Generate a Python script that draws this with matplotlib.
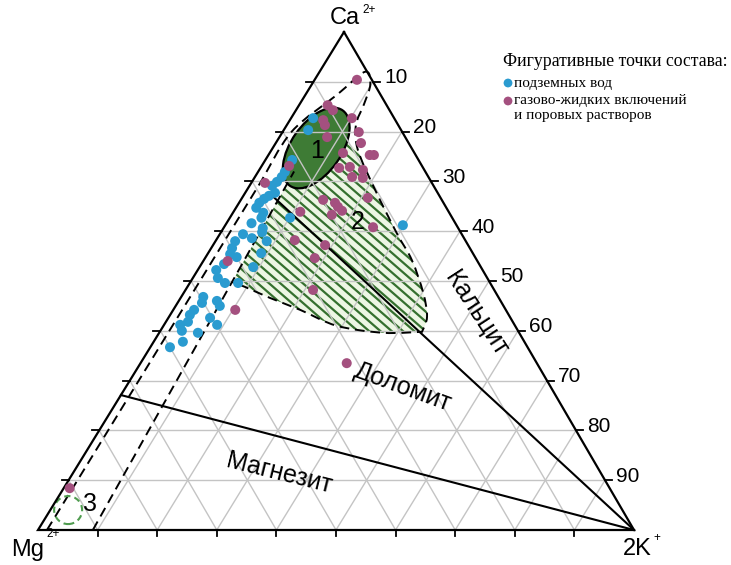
import numpy as np
import matplotlib
matplotlib.use("Agg")
import matplotlib.pyplot as plt
from matplotlib.path import Path
from matplotlib.patches import PathPatch, Ellipse, Circle

# ---------------- data (percent Ca2+, percent 2K+; Mg2+ = 100 - Ca - K) -------------
blue_ca = [82.7, 80.3, 74.3, 71.9, 70.9, 69.9, 69.1, 67.7, 67.1, 66.5, 65.7, 64.7,
           63.7, 62.7, 61.6, 62.7, 60.6, 59.4, 58.6, 59.8, 58.0, 58.0, 56.6, 55.4,
           54.8, 55.6, 52.8, 53.4, 52.2, 50.6, 49.6, 49.6, 46.8, 45.6, 46.0, 45.0,
           44.2, 43.2, 41.8, 42.6, 41.2, 41.2, 40.0, 39.6, 37.8, 36.7, 61.2]
blue_k = [3.7, 4.1, 4.5, 4.5, 4.5, 4.2, 3.8, 5.0, 4.3, 3.8, 3.4, 3.4,
          5.1, 5.3, 4.2, 10.1, 6.6, 3.9, 5.8, 6.9, 8.6, 3.3, 3.5, 3.8,
          5.2, 8.9, 9.0, 3.8, 3.1, 4.2, 5.9, 8.1, 3.7, 4.1, 6.4, 7.4,
          3.5, 3.3, 3.7, 7.0, 8.9, 2.7, 3.6, 6.5, 4.9, 3.3, 29.8]

pink_ca = [90.4, 85.3, 84.3, 82.3, 81.3, 78.9, 82.7, 79.9, 77.7, 75.3, 75.3, 75.7,
           72.7, 72.9, 70.9, 72.3, 70.7, 66.7, 66.3, 65.7, 64.9, 64.1, 63.3, 63.9,
           73.1, 69.7, 60.8, 58.2, 57.2, 54.6, 48.2, 44.2, 54.0, 33.5, 8.4]
pink_k = [7.1, 4.8, 6.2, 5.6, 6.4, 8.0, 10.2, 12.8, 14.3, 17.0, 17.7, 12.3,
          13.2, 14.9, 16.3, 17.4, 18.2, 21.1, 13.8, 16.1, 17.0, 18.1, 16.8, 11.2,
          4.6, 2.3, 25.0, 13.2, 18.8, 18.4, 21.4, 10.4, 4.1, 34.6, 1.0]

tick_levels = [10, 20, 30, 40, 50, 60, 70, 80, 90]

# field outlines (Ca %, K %)
env_top_ca = [70.0, 80.0, 87.4, 92.0, 89.5, 85.5, 81.3, 76.3, 68.3, 59.6, 54.2, 47.6, 42.8, 39.8]
env_top_k = [1.5, 1.5, 5.3, 7.6, 9.8, 10.8, 11.6, 14.5, 21.5, 29.6, 34.9, 40.2, 43.3, 44.0]
env_bot_ca = [39.8, 39.6, 41.0, 44.2, 46.6, 48.8, 49.8]
env_bot_k = [44.0, 37.6, 29.1, 21.3, 15.0, 9.7, 7.0]
line_b_ca = [0.0, 72.0]
line_b_k = [9.2, 6.0]
calcite_ca = [67.0, 0.0]
calcite_k = [5.0, 100.0]
magnesite_ca = [27.1, 0.0]
magnesite_k = [0.0, 100.0]
field1_center = (76.7, 7.3)
field3_center = (4.0, 3.0)

# ---------------- geometry ----------------
V_CA = np.array([344.0, 533.0])
V_MG = np.array([38.0, 35.0])
V_K = np.array([634.0, 35.0])


def tern(ca, k):
    ca = np.asarray(ca, float) / 100.0
    k = np.asarray(k, float) / 100.0
    mg = 1.0 - ca - k
    x = ca * V_CA[0] + mg * V_MG[0] + k * V_K[0]
    y = ca * V_CA[1] + mg * V_MG[1] + k * V_K[1]
    return x, y


def pts(ca, k):
    x, y = tern(ca, k)
    return np.column_stack([x, y])


def catmull(P):
    P = np.asarray(P, float)
    n = len(P)
    verts, codes = [], []
    for i in range(n - 1):
        p0 = P[i - 1] if i > 0 else P[i]
        p1, p2 = P[i], P[i + 1]
        p3 = P[i + 2] if i + 2 < n else P[i + 1]
        verts += [p1 + (p2 - p0) / 6.0, p2 - (p3 - p1) / 6.0, p2]
        codes += [Path.CURVE4] * 3
    return verts, codes


fig = plt.figure(figsize=(7.31, 5.65), dpi=100)
ax = fig.add_axes([0, 0, 1, 1])
ax.set_xlim(0, 731)
ax.set_ylim(0, 565)
ax.axis("off")

SANS = ["Liberation Sans", "DejaVu Sans"]
SERIF = ["Liberation Serif", "DejaVu Serif"]
grid_c = "#c4c4c4"

# grid
for lv in tick_levels:
    x, y = tern([lv, lv], [0, 100 - lv])
    ax.plot(x, y, color=grid_c, lw=1.0, zorder=5)
    x, y = tern([100 - lv, 0], [lv, lv])
    ax.plot(x, y, color=grid_c, lw=1.0, zorder=5)
    x, y = tern([100 - lv, 0], [0, 100 - lv])
    ax.plot(x, y, color=grid_c, lw=1.0, zorder=5)

# triangle
x, y = tern([100, 0, 0, 100], [0, 0, 100, 0])
ax.plot(x, y, color="black", lw=1.6, zorder=8, solid_joinstyle="miter")

# ticks and labels
for lv in tick_levels:
    xr, yr = tern(lv, 100 - lv)
    ax.plot([xr, xr + 7], [yr, yr], color="black", lw=1.3, zorder=8)
    ax.text(xr + 11, yr + 4, str(100 - lv), fontsize=15, family=SANS,
            ha="left", va="center", zorder=10)
    xl, yl = tern(lv, 0)
    ax.plot([xl - 7, xl], [yl, yl], color="black", lw=1.3, zorder=8)
    xb, yb = tern(0, lv)
    ax.plot([xb, xb], [yb, yb - 6], color="black", lw=1.3, zorder=8)

# hatched field 2
bl = pts(line_b_ca, line_b_k)
start = pts([env_bot_ca[-1]], [env_bot_k[-1]])[0]
hverts = [start, bl[1]]
hcodes = [Path.MOVETO, Path.LINETO]
extra = pts([78.0, 77.5, 76.3], [9.0, 12.5, 14.5])
for p in extra:
    hverts.append(p)
    hcodes.append(Path.LINETO)
right = pts(env_top_ca[7:], env_top_k[7:])
v, c = catmull(right)
hverts += v
hcodes += c
bot = pts(env_bot_ca, env_bot_k)
v, c = catmull(bot)
hverts += v
hcodes += c
hverts.append(start)
hcodes.append(Path.CLOSEPOLY)
hpath = Path(hverts, hcodes)
hpatch = PathPatch(hpath, facecolor="#edf6e4", edgecolor="none", zorder=3)
ax.add_patch(hpatch)
ang = np.deg2rad(41)
for b in np.arange(300, 900, 9.8):
    xs = np.array([150, 480])
    ys = b - np.tan(ang) * xs
    ln, = ax.plot(xs, ys, color="#35702f", lw=1.6, zorder=3.5)
    ln.set_clip_path(hpatch)

# envelope (dashed)
top = pts(env_top_ca, env_top_k)
ev = [pts([0], [1.5])[0], top[0]]
ec = [Path.MOVETO, Path.LINETO]
v, c = catmull(top)
ev += v
ec += c
v, c = catmull(bot)
ev += v
ec += c
ax.add_patch(PathPatch(Path(ev, ec), fill=False, edgecolor="black", lw=1.4,
                       linestyle=(0, (5, 3)), zorder=7))
ax.plot(bl[:, 0], bl[:, 1], color="black", lw=1.4, linestyle=(0, (5, 3)), zorder=7)

# solid field boundaries
x, y = tern(calcite_ca, calcite_k)
ax.plot(x, y, color="black", lw=1.5, zorder=7)
x, y = tern(magnesite_ca, magnesite_k)
ax.plot(x, y, color="black", lw=1.5, zorder=7)

# field 1 ellipse
cx, cy = tern(*field1_center)
ax.add_patch(Ellipse((cx, cy), width=92, height=50, angle=55,
                     facecolor="#3e7b35", edgecolor="black", lw=1.6, zorder=4))
ax.text(cx + 1, cy - 3, "1", fontsize=18, family=SANS, ha="center", va="center", zorder=10)

# field 3 circle
c3x, c3y = tern(*field3_center)
ax.add_patch(Circle((c3x, c3y), 14, fill=False, edgecolor="#4f9c4f", lw=1.5,
                    linestyle=(0, (3, 2)), zorder=7))
ax.text(c3x + 22, c3y + 6, "3", fontsize=18, family=SANS, ha="center", va="center", zorder=10)

x2, y2 = tern(61.8, 21.9)
ax.text(x2, y2, "2", fontsize=18, family=SANS, ha="center", va="center", zorder=10)

# points
bx, by = tern(blue_ca, blue_k)
ax.scatter(bx, by, s=52, color="#2a9bd0", edgecolors="none", zorder=9)
px, py = tern(pink_ca, pink_k)
ax.scatter(px, py, s=52, color="#a4507f", edgecolors="none", zorder=9)

# mineral labels
ax.text(476, 251, "Кальцит", fontsize=18, family=SANS, rotation=-57,
        ha="center", va="center", rotation_mode="anchor", zorder=10)
ax.text(403, 178, "Доломит", fontsize=18, family=SANS, rotation=-20,
        ha="center", va="center", rotation_mode="anchor", zorder=10)
ax.text(279, 92, "Магнезит", fontsize=18, family=SANS, rotation=-14,
        ha="center", va="center", rotation_mode="anchor", zorder=10)

# vertex labels
ax.text(345, 547, "Ca", fontsize=17, family=SANS, ha="center", va="center")
ax.text(362, 555, "2+", fontsize=8.5, family=SANS, ha="left", va="center")
ax.text(28, 15, "Mg", fontsize=17, family=SANS, ha="center", va="center")
ax.text(46, 31, "2+", fontsize=8.5, family=SANS, ha="left", va="center")
ax.text(637, 16, "2K", fontsize=17, family=SANS, ha="center", va="center")
ax.text(653, 27, "+", fontsize=8.5, family=SANS, ha="left", va="center")

# legend
ax.text(503, 504, "Фигуративные точки состава:", fontsize=12.8, family=SERIF,
        ha="left", va="center")
ax.scatter([508], [482], s=40, color="#2a9bd0", edgecolors="none")
ax.text(514, 482, "подземных вод", fontsize=11, family=SERIF, ha="left", va="center")
ax.scatter([508], [464], s=40, color="#a4507f", edgecolors="none")
ax.text(514, 464.5, "газово-жидких включений", fontsize=11, family=SERIF,
        ha="left", va="center")
ax.text(514, 449.5, "и поровых растворов", fontsize=11, family=SERIF,
        ha="left", va="center")

fig.savefig("out.png", dpi=100)
